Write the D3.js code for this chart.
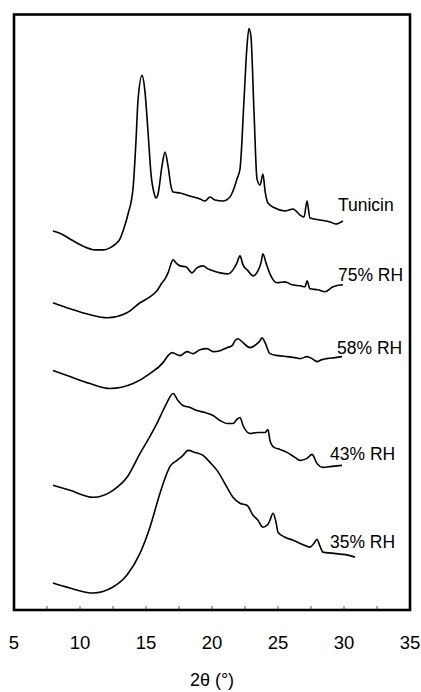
<!DOCTYPE html>
<html>
<head>
<meta charset="utf-8">
<script src="https://cdn.jsdelivr.net/npm/d3@7"></script>
<style>
  body { margin: 0; background: #fff; }
  text { font-family: "Liberation Sans", Arial, sans-serif; fill: #000; }
</style>
</head>
<body>
<div id="chart"></div>
<script>
// x tick labels (2 theta, degrees)
var xTicks = [5, 10, 15, 20, 25, 30, 35];
var xMinorTicks = [7.5, 10, 12.5, 15, 17.5, 20, 22.5, 25, 27.5, 30, 32.5];

var seriesNames = ["Tunicin", "75% RH", "58% RH", "43% RH", "35% RH"];

// [2theta, intensity (a.u., stacked)]
var tunicin = [
    [7.95, 380], [8.6, 377], [9.24, 372], [10.2, 365], [11.14, 361], [11.8, 361], [12.27, 363],
    [12.7, 367], [13.03, 372], [13.26, 380],
    [13.64, 397], [14.02, 423], [14.24, 470], [14.39, 510], [14.70, 536], [14.92, 520],
    [15.15, 480], [15.38, 437], [15.61, 418], [15.76, 413], [15.91, 417], [16.21, 445],
    [16.44, 459], [16.67, 445], [16.89, 425], [17.05, 419], [17.58, 418], [18.33, 415],
    [19.09, 412], [19.47, 410], [19.85, 414], [20.23, 411], [20.83, 410], [21.36, 414],
    [21.59, 420], [21.89, 432], [22.12, 442], [22.42, 510], [22.65, 565], [22.80, 583],
    [22.95, 575], [23.18, 500], [23.41, 432], [23.64, 426], [23.86, 437], [24.02, 420],
    [24.24, 408], [24.77, 403], [25.53, 400], [26.14, 402], [26.67, 396], [26.97, 394],
    [27.20, 410], [27.42, 393], [28.18, 391], [28.94, 389], [29.39, 387], [29.92, 390]
];
var rh75 = [
    [7.95, 308], [9.24, 302], [10.76, 296], [12.05, 293], [13.56, 298], [14.55, 308],
    [15.30, 314], [15.83, 320], [16.21, 328], [16.44, 332], [16.67, 338], [17.05, 351],
    [17.27, 348], [17.58, 345], [18.03, 344], [18.48, 338], [18.86, 343], [19.32, 345],
    [19.70, 342], [20.08, 340], [20.61, 338], [21.21, 337], [21.59, 341], [21.89, 348],
    [22.12, 355], [22.35, 346], [22.73, 340], [23.11, 335], [23.48, 340], [23.71, 348],
    [23.86, 357], [24.09, 348], [24.39, 337], [24.92, 328], [25.53, 329], [26.06, 326],
    [26.67, 325], [27.05, 324], [27.20, 330], [27.42, 322], [28.03, 321], [28.56, 319],
    [29.17, 324], [29.92, 326]
];
var rh58 = [
    [7.95, 240], [9.24, 234], [10.76, 227], [12.27, 222], [14.02, 227], [15.30, 237],
    [16.29, 248], [16.67, 255], [16.97, 258], [17.58, 255], [18.11, 259], [18.56, 257],
    [19.09, 261], [19.62, 262], [20.08, 259], [20.61, 260], [21.14, 263], [21.52, 265],
    [21.74, 270], [21.97, 272], [22.35, 268], [22.88, 263], [23.33, 266], [23.64, 270],
    [23.79, 273], [24.02, 268], [24.39, 257], [25.00, 255], [25.68, 254], [26.29, 253],
    [26.67, 252], [27.20, 254], [27.58, 252], [27.95, 249], [28.33, 251], [28.71, 252],
    [29.32, 253], [29.85, 254]
];
var rh43 = [
    [7.95, 125], [9.24, 120], [10.98, 113], [12.50, 120], [13.56, 133], [14.55, 157],
    [15.30, 174], [15.83, 187], [16.29, 200], [16.59, 208], [17.05, 217], [17.42, 210],
    [17.80, 205], [18.33, 203], [18.86, 200], [19.47, 198], [20.08, 195], [20.61, 190],
    [21.14, 187], [21.59, 187], [21.89, 191], [22.12, 193], [22.35, 185], [22.88, 177],
    [23.48, 178], [24.02, 178], [24.24, 181], [24.39, 170], [24.70, 163], [25.15, 161],
    [25.68, 158], [26.29, 153], [26.67, 150], [27.20, 152], [27.58, 156], [27.95, 147],
    [28.41, 143], [29.09, 144], [29.85, 145]
];
var rh35 = [
    [7.95, 27], [9.24, 22], [10.98, 17], [12.50, 23], [13.56, 35], [14.55, 57],
    [15.30, 83], [16.06, 117], [16.44, 132], [16.82, 144], [17.35, 150], [17.80, 155],
    [18.18, 160], [18.71, 158], [19.32, 155], [19.85, 148], [20.38, 140], [21.14, 123],
    [21.59, 113], [22.12, 107], [22.65, 105], [23.11, 95], [23.48, 90], [23.86, 83],
    [24.24, 86], [24.39, 90], [24.62, 97], [24.85, 88], [25.00, 78], [25.53, 73],
    [26.14, 70], [26.82, 66], [27.42, 63], [27.73, 67], [27.95, 71], [28.18, 64],
    [28.41, 58], [29.09, 57], [29.70, 56], [30.30, 55], [30.83, 53]
];

var allSeries = [tunicin, rh75, rh58, rh43, rh35];

var width = 421, height = 692;
var margin = { top: 14.5, right: 11, bottom: 82, left: 14 };

var svg = d3.select("#chart").append("svg")
    .attr("width", width)
    .attr("height", height);

var x = d3.scaleLinear()
    .domain([5, 35])
    .range([margin.left, width - margin.right]);

var y = d3.scaleLinear()
    .domain([0, 597])
    .range([height - margin.bottom, margin.top]);

var line = d3.line()
    .curve(d3.curveMonotoneX)
    .x(function (d) { return x(d[0]); })
    .y(function (d) { return y(d[1]); });

// curves
svg.selectAll(".trace")
    .data(allSeries)
    .enter().append("path")
    .attr("class", "trace")
    .attr("d", line)
    .attr("fill", "none")
    .attr("stroke", "#000")
    .attr("stroke-width", 1.6)
    .attr("stroke-linejoin", "round");

// series labels, next to the end of each curve
var labelDx = [-5, -5, -5, -12, -25];
var labelDy = [-10, -4, -3, -5, -9];
svg.selectAll(".label")
    .data(seriesNames)
    .enter().append("text")
    .attr("class", "label")
    .attr("x", function (d, i) { var s = allSeries[i]; return x(s[s.length - 1][0]) + labelDx[i]; })
    .attr("y", function (d, i) { var s = allSeries[i]; return y(s[s.length - 1][1]) + labelDy[i]; })
    .attr("font-size", 17.5)
    .text(function (d) { return d; });

// minor ticks inside the bottom edge
svg.selectAll(".mtick")
    .data(xMinorTicks)
    .enter().append("line")
    .attr("class", "mtick")
    .attr("x1", function (d) { return x(d); })
    .attr("x2", function (d) { return x(d); })
    .attr("y1", y.range()[0])
    .attr("y2", y.range()[0] - 4)
    .attr("stroke", "#555")
    .attr("stroke-width", 1);

// frame
svg.append("rect")
    .attr("x", x.range()[0])
    .attr("y", y.range()[1])
    .attr("width", x.range()[1] - x.range()[0])
    .attr("height", y.range()[0] - y.range()[1])
    .attr("fill", "none")
    .attr("stroke", "#000")
    .attr("stroke-width", 2.6);

// tick labels
svg.selectAll(".xlab")
    .data(xTicks)
    .enter().append("text")
    .attr("class", "xlab")
    .attr("x", function (d) { return x(d); })
    .attr("y", 649)
    .attr("text-anchor", "middle")
    .attr("font-size", 18.5)
    .text(function (d) { return d; });

// axis title
svg.append("text")
    .attr("x", x(20))
    .attr("y", 686)
    .attr("text-anchor", "middle")
    .attr("font-size", 18)
    .text("2θ (°)");
</script>
</body>
</html>
